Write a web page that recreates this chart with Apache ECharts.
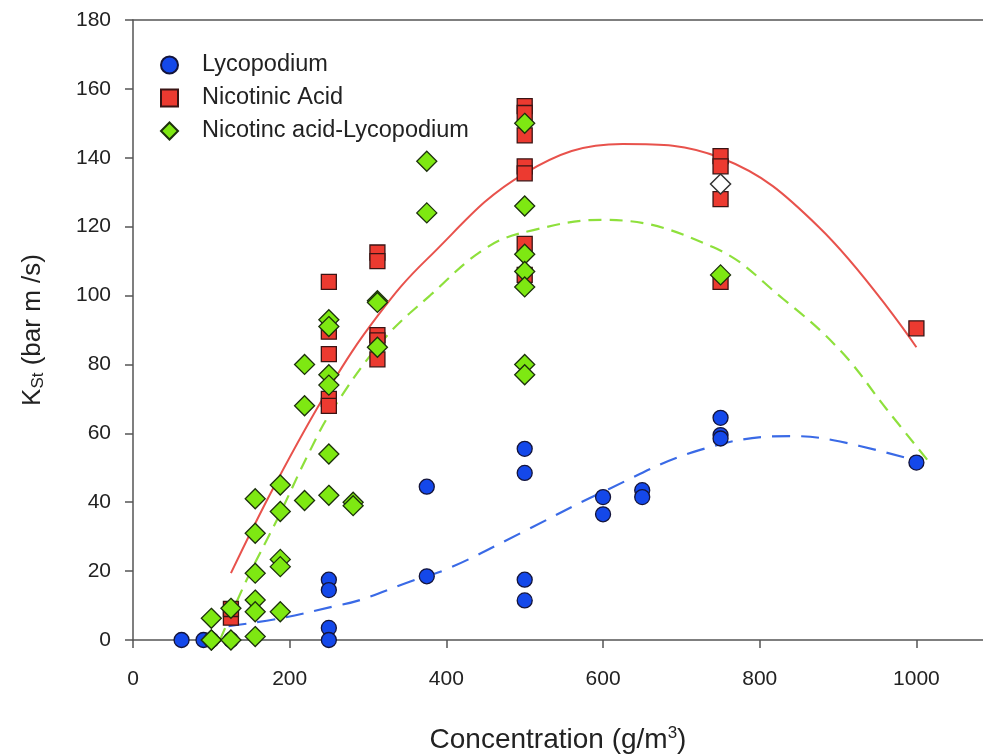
<!DOCTYPE html>
<html lang="en">
<head>
  <meta charset="UTF-8">
  <title>KSt vs Concentration</title>
  <script src="https://cdn.jsdelivr.net/npm/echarts@6.0.0/dist/echarts.min.js"></script>
  <style>
    html, body { margin: 0; padding: 0; background: #fff; }
  </style>
</head>
<body>
  <div id="chart" style="width: 983px; height: 754px;"></div>

  <script>
    // measured points
    const lycoX = [62, 90, 100, 125, 250, 250, 250, 250, 375, 375, 500, 500, 500, 500, 600, 600, 650, 650, 750, 750, 750, 1000]
    const lycoY = [0, 0, 0, 0, 17.5, 14.5, 3.5, 0, 44.5, 18.5, 55.5, 48.5, 17.5, 11.5, 41.5, 36.5, 43.5, 41.5, 64.5, 59.5, 58.5, 51.5]

    const nicoX = [125, 125, 250, 250, 250, 250, 250, 312, 312, 312, 312, 312, 500, 500, 500, 500, 500, 500, 500, 750, 750, 750, 750, 1000]
    const nicoY = [6.5, 9, 104, 89.5, 83, 70, 68, 112.5, 110, 88.5, 87, 81.5, 155, 153, 146.5, 137.5, 135.5, 115, 106, 140.5, 137.5, 128, 104, 90.5]

    const mixX = [100, 100, 100, 125, 125, 156, 156, 156, 156, 156, 156, 188, 188, 188, 188, 188, 219, 219, 219, 250, 250, 250, 250, 250, 250, 281, 281, 312, 312, 312, 375, 375, 500, 500, 500, 500, 500, 500, 500, 750]
    const mixY = [6.3, 0, 0, 9.2, 0, 41, 31, 19.4, 11.6, 8.2, 1, 45, 37.3, 23.4, 21.3, 8.2, 80, 68, 40.5, 93, 91, 77, 74, 54, 42, 40, 39, 98.5, 98, 85, 139, 124, 150, 126, 112, 107, 102.5, 80, 77, 106]

    // the single open diamond at 750
    const openX = [750]
    const openY = [132.4]

    // fitted curves
    const redFitX = [125, 180, 250, 312, 375, 500, 625, 750, 875, 1000]
    const redFitY = [19.4, 44.5, 73, 94, 110.5, 135.5, 144, 140, 120, 85]
    const greenFitX = [111, 145, 184, 226, 255, 319, 379, 452, 511, 600, 741, 830, 903, 962, 1015]
    const greenFitY = [0, 17.4, 35, 55, 67, 87, 100, 114, 119, 122, 114, 99, 84, 67, 52]
    const blueFitX = [122, 188, 255, 290, 354, 405, 498, 596, 724, 839, 894, 996]
    const blueFitY = [4, 6.3, 9.7, 11.6, 17, 21, 31.4, 42.6, 55.2, 59.2, 58, 52.3]

    const xTicks = [0, 200, 400, 600, 800, 1000]

    const zip = (xs, ys) => xs.map((x, i) => [x, ys[i]])

    const axisColor = '#555'
    const chart = echarts.init(document.getElementById('chart'), null, { renderer: 'canvas' })

    chart.setOption({
      animation: false,
      backgroundColor: '#fff',
      textStyle: { fontFamily: 'Liberation Sans, Arial, sans-serif' },
      // keep the grid where it is, labels may touch the edges
      grid: { left: 133, top: 20, right: 0, bottom: 114, outerBoundsMode: 'none', containLabel: false },
      legend: {
        data: ['Lycopodium', 'Nicotinic Acid', 'Nicotinc acid-Lycopodium'],
        orient: 'vertical',
        left: 155,
        top: 48,
        itemWidth: 17,
        itemHeight: 17,
        itemGap: 9,
        itemStyle: { opacity: 1 },
        textStyle: { fontSize: 23.5, color: '#222', padding: [0, 0, 0, 19] }
      },
      xAxis: [{
        type: 'value',
        min: 0,
        max: 1085,
        interval: 200,
        position: 'bottom',
        splitLine: { show: false },
        axisLine: { lineStyle: { color: axisColor, width: 1.5 } },
        axisTick: { length: 8, lineStyle: { color: axisColor, width: 1.5 } },
        axisLabel: {
          fontSize: 21, color: '#222', margin: 29, showMaxLabel: false,
          formatter: v => xTicks.includes(v) ? String(v) : ''
        },
        name: 'Concentration (g/m{sup|3})',
        nameLocation: 'middle',
        nameGap: 85,
        nameTextStyle: {
          fontSize: 28, color: '#222',
          rich: { sup: { fontSize: 17, color: '#222', verticalAlign: 'top', padding: [0, 0, 14, 0] } }
        }
      }, {
        type: 'value',
        min: 0,
        max: 1085,
        position: 'top',
        splitLine: { show: false },
        axisLine: { lineStyle: { color: axisColor, width: 1.5 } },
        axisTick: { show: false },
        axisLabel: { show: false }
      }],
      yAxis: {
        type: 'value',
        min: 0,
        max: 180,
        interval: 20,
        splitLine: { show: false },
        axisLine: { show: true, lineStyle: { color: axisColor, width: 1.5 } },
        axisTick: { show: true, length: 8, lineStyle: { color: axisColor, width: 1.5 } },
        axisLabel: { fontSize: 21, color: '#222', margin: 22 },
        name: '{a|K}{b|St}{a| (bar m /s)}',
        nameLocation: 'middle',
        nameGap: 86,
        nameTextStyle: {
          rich: {
            a: { fontSize: 26, color: '#222' },
            b: { fontSize: 17, color: '#222', padding: [12, 0, 0, 0] }
          }
        }
      },
      series: [{
        name: 'Blue fit',
        type: 'line',
        data: zip(blueFitX, blueFitY),
        smooth: 0.4,
        showSymbol: false,
        silent: true,
        lineStyle: { color: '#3a6ae6', width: 2.2, type: [18, 11] },
        z: 1
      }, {
        name: 'Red fit',
        type: 'line',
        data: zip(redFitX, redFitY),
        smooth: 0.4,
        showSymbol: false,
        silent: true,
        lineStyle: { color: '#e8524c', width: 2 },
        z: 1
      }, {
        name: 'Green fit',
        type: 'line',
        data: zip(greenFitX, greenFitY),
        smooth: 0.4,
        showSymbol: false,
        silent: true,
        lineStyle: { color: '#8ee03c', width: 2.2, type: [13, 8] },
        z: 1
      }, {
        name: 'Lycopodium',
        type: 'scatter',
        data: zip(lycoX, lycoY),
        symbol: 'circle',
        symbolSize: 15,
        itemStyle: { color: '#1448ea', borderColor: '#14143a', borderWidth: 1.3, opacity: 1 },
        z: 3
      }, {
        name: 'Nicotinic Acid',
        type: 'scatter',
        data: zip(nicoX, nicoY),
        symbol: 'rect',
        symbolSize: 15,
        itemStyle: { color: '#ec3a30', borderColor: '#3a1414', borderWidth: 1.3, opacity: 1 },
        z: 4
      }, {
        name: 'Nicotinc acid-Lycopodium',
        type: 'scatter',
        data: zip(mixX, mixY),
        symbol: 'diamond',
        symbolSize: 20,
        itemStyle: { color: '#7ee812', borderColor: '#1c300c', borderWidth: 1.3, opacity: 1 },
        z: 5
      }, {
        name: 'open',
        type: 'scatter',
        data: zip(openX, openY),
        symbol: 'diamond',
        symbolSize: 20,
        itemStyle: { color: '#fff', borderColor: '#333', borderWidth: 1.5, opacity: 1 },
        z: 5
      }]
    })
  </script>
</body>
</html>
